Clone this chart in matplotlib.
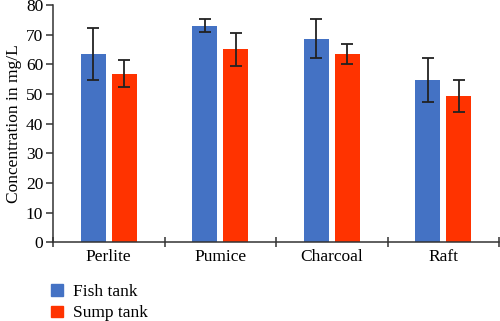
import numpy as np
import matplotlib.pyplot as plt
from matplotlib.patches import Patch

plt.rcParams['font.family'] = ['Liberation Serif', 'DejaVu Serif']

media = ['Perlite', 'Pumice', 'Charcoal', 'Raft']
fish_tank = [63.6, 73.0, 68.7, 54.7]
fish_err = [8.8, 2.2, 6.5, 7.5]
sump_tank = [56.9, 65.1, 63.6, 49.4]
sump_err = [4.6, 5.6, 3.4, 5.4]

BLUE = '#4472C4'
RED = '#FF3300'

fig = plt.figure(figsize=(5.0, 3.21), dpi=100)
ax = fig.add_axes([0.106, 0.245, 0.892, 0.739])

x = np.arange(len(media))
w = 0.224
off = 0.141
err_kw = dict(ecolor='#222222', elinewidth=1.3, capsize=4.5, capthick=1.3)
ax.bar(x - off, fish_tank, w, color=BLUE, yerr=fish_err, error_kw=err_kw,
       label='Fish tank')
ax.bar(x + off, sump_tank, w, color=RED, yerr=sump_err, error_kw=err_kw,
       label='Sump tank')

ax.set_xlim(-0.5, len(media) - 0.5)
ax.set_ylim(0, 80)
ax.set_yticks(range(0, 81, 10))
ax.set_xticks(x)
ax.set_xticklabels(media)
ax.set_xticks(np.arange(-0.5, len(media), 1.0), minor=True)
ax.tick_params(axis='x', which='major', length=0, labelsize=12.5, pad=5)
ax.tick_params(axis='x', which='minor', direction='inout', length=7,
               width=1.1, color='#333333')
ax.tick_params(axis='y', direction='out', length=5, width=1.1,
               color='#333333', labelsize=12.5, pad=2)
for side in ['top', 'right']:
    ax.spines[side].set_visible(False)
for side in ['left', 'bottom']:
    ax.spines[side].set_linewidth(1.1)
    ax.spines[side].set_color('#333333')
ax.set_ylabel('Concentration in mg/L', fontsize=12.5, labelpad=3)

handles = [Patch(color=BLUE), Patch(color=RED)]
fig.legend(handles, ['Fish tank', 'Sump tank'], loc='upper left',
           bbox_to_anchor=(0.089, 0.136), borderaxespad=0, frameon=False,
           fontsize=12.5, handlelength=0.65, handleheight=0.65,
           handletextpad=0.6, labelspacing=0.3)

fig.savefig('out.png', dpi=100)
